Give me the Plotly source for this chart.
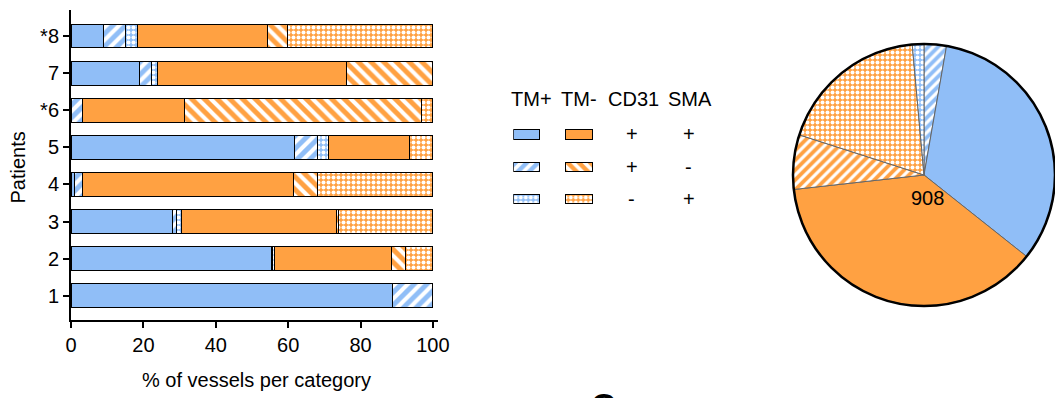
import plotly.graph_objects as go

# ---------------- data ----------------
patients = ["1", "2", "3", "4", "5", "*6", "7", "*8"]
totals = [18, 253, 210, 91, 94, 32, 63, 147]

# vessel counts per category, per patient (same order as `patients`)
tm_pos_cd31p_smap = [16, 140, 59, 1, 58, 0, 12, 13]
tm_pos_cd31p_smam = [2, 1, 2, 2, 6, 1, 2, 9]
tm_pos_cd31m_smap = [0, 1, 3, 0, 3, 0, 1, 5]
tm_neg_cd31p_smap = [0, 82, 90, 53, 21, 9, 33, 53]
tm_neg_cd31p_smam = [0, 10, 1, 6, 0, 21, 15, 8]
tm_neg_cd31m_smap = [0, 19, 55, 29, 6, 1, 0, 59]

legend_headers = ["TM+", "TM-", "CD31", "SMA"]
legend_cd31 = ["+", "+", "-"]
legend_sma = ["+", "-", "+"]

# ---------------- styles ----------------
BLUE = "#90BEF7"
ORANGE = "#FFA142"
FONT = "Liberation Sans, Arial, sans-serif"
W, H = 1055, 398


def pat(kind, color, hatch="/", size=9):
    if kind == "solid":
        return dict(shape="")
    if kind == "hatch":
        return dict(shape=hatch, size=size, solidity=0.45, fillmode="overlay",
                    bgcolor=color, fgcolor="white", fgopacity=1)
    return dict(shape=".", size=5, solidity=0.5, fillmode="overlay",
                bgcolor=color, fgcolor="white", fgopacity=1)


series = [
    ("TM+ CD31+ SMA+", tm_pos_cd31p_smap, BLUE, "solid", "/"),
    ("TM+ CD31+ SMA-", tm_pos_cd31p_smam, BLUE, "hatch", "/"),
    ("TM+ CD31- SMA+", tm_pos_cd31m_smap, BLUE, "check", "/"),
    ("TM- CD31+ SMA+", tm_neg_cd31p_smap, ORANGE, "solid", "\\"),
    ("TM- CD31+ SMA-", tm_neg_cd31p_smam, ORANGE, "hatch", "\\"),
    ("TM- CD31- SMA+", tm_neg_cd31m_smap, ORANGE, "check", "\\"),
]

fig = go.Figure()

# ---------------- stacked bars ----------------
for name, counts, color, kind, hatch in series:
    pct = [100.0 * c / t for c, t in zip(counts, totals)]
    fig.add_trace(go.Bar(
        x=pct, y=patients, orientation="h", name=name,
        marker=dict(color=color, line=dict(color="black", width=1),
                    pattern=pat(kind, color, hatch)),
        xaxis="x", yaxis="y", showlegend=False,
        hovertemplate=name + "<br>Patient %{y}: %{x:.1f}%<extra></extra>",
    ))

# ---------------- legend table (swatches as bars) ----------------
for i, (name, counts, color, kind, hatch) in enumerate(series):
    col = 0 if i < 3 else 1
    row = i % 3
    fig.add_trace(go.Bar(
        x=[1], base=[col * 2], y=[row], orientation="h", width=0.28,
        marker=dict(color=color, line=dict(color="black", width=1),
                    pattern=pat(kind, color, hatch, size=8)),
        xaxis="x2", yaxis="y2", showlegend=False, hoverinfo="skip",
    ))

# ---------------- pie ----------------
pie_totals = [sum(s[1]) for s in series]
pie_order = [1, 0, 3, 4, 5, 2]
pie_patterns = []
for k in pie_order:
    name, counts, color, kind, hatch = series[k]
    pie_patterns.append(pat(kind, color, "/", size=7))

pie_x0, pie_x1 = 793 / W, 1.0
pie_y0, pie_y1 = 1 - 306 / H, 1 - 44 / H
fig.add_trace(go.Pie(
    values=[pie_totals[k] for k in pie_order],
    labels=[series[k][0] for k in pie_order],
    marker=dict(colors=[series[k][2] for k in pie_order],
                line=dict(color="#666666", width=1),
                pattern=dict(
                    shape=[p.get("shape", "") for p in pie_patterns],
                    size=[p.get("size", 7) for p in pie_patterns],
                    solidity=[p.get("solidity", 0.5) for p in pie_patterns],
                    bgcolor=[series[k][2] for k in pie_order],
                    fgcolor="white", fgopacity=1, fillmode="overlay")),
    sort=False, direction="clockwise", rotation=0,
    textinfo="none", showlegend=False,
    domain=dict(x=[pie_x0, pie_x1], y=[pie_y0, pie_y1]),
))

txtfont = dict(size=20, family=FONT, color="black")
annotations = []
# totals to the right of the bars
for p, t in zip(patients, totals):
    annotations.append(dict(x=103.8, y=p, xref="x", yref="y", text=str(t),
                            showarrow=False, xanchor="left", font=txtfont))
# axis titles
annotations.append(dict(x=256.7 / W, y=1 - 380 / H, xref="paper", yref="paper",
                        text="% of vessels per category", showarrow=False,
                        xanchor="center", yanchor="middle", font=txtfont))
annotations.append(dict(x=17 / W, y=1 - 167.5 / H, xref="paper", yref="paper",
                        text="Patients", showarrow=False, textangle=-90,
                        xanchor="center", yanchor="middle", font=txtfont))
# legend headers
for txt, xh in zip(legend_headers, [0.7, 2.5, 4.56, 6.71]):
    annotations.append(dict(x=xh, y=-1.1, xref="x2", yref="y2", text=txt,
                            showarrow=False, xanchor="center", font=txtfont))
for r in range(3):
    annotations.append(dict(x=4.5, y=r, xref="x2", yref="y2", text=legend_cd31[r],
                            showarrow=False, xanchor="center", font=txtfont))
    annotations.append(dict(x=6.67, y=r, xref="x2", yref="y2", text=legend_sma[r],
                            showarrow=False, xanchor="center", font=txtfont))
# pie total
annotations.append(dict(x=927.7 / W, y=1 - 198 / H, xref="paper", yref="paper",
                        text=str(sum(totals)), showarrow=False,
                        xanchor="center", yanchor="middle", font=txtfont))
# panel letter (cropped at the bottom)
annotations.append(dict(x=603 / W, y=1 - 384 / H, xref="paper", yref="paper",
                        text="<b>C</b>", showarrow=False, yanchor="top",
                        xanchor="center",
                        font=dict(size=34, family=FONT, color="black")))

fig.update_layout(
    width=W, height=H,
    margin=dict(l=0, r=0, t=0, b=0),
    paper_bgcolor="white", plot_bgcolor="white",
    barmode="stack", bargap=0.354,
    font=dict(family=FONT, size=20, color="black"),
    xaxis=dict(domain=[71 / W, 438 / W], range=[0, 101.4],
               tickmode="linear", tick0=0, dtick=20,
               showline=True, linecolor="black", linewidth=2,
               ticks="outside", ticklen=6, tickwidth=2, tickcolor="black",
               showgrid=False, zeroline=False, automargin=False,
               tickfont=txtfont),
    yaxis=dict(domain=[1 - 320 / H, 1 - 10 / H], range=[-0.65, 7.7],
               type="category", categoryorder="array", categoryarray=patients,
               showline=True, linecolor="black", linewidth=2,
               ticks="outside", ticklen=6, tickwidth=2, tickcolor="black",
               showgrid=False, zeroline=False, automargin=False,
               tickfont=txtfont),
    xaxis2=dict(domain=[513.3 / W, 715 / W], range=[0, 7.66], visible=False,
                anchor="y2", fixedrange=True),
    yaxis2=dict(domain=[1 - 215.1 / H, 1 - 80 / H], range=[2.5, -1.69],
                visible=False, anchor="x2", fixedrange=True),
    annotations=annotations,
    shapes=[dict(type="circle", xref="paper", yref="paper",
                 x0=pie_x0, x1=pie_x1, y0=pie_y0, y1=pie_y1,
                 line=dict(color="black", width=2.5), layer="above")],
)

fig.write_html("out.html",
               config={"displayModeBar": False},
               post_script="document.body.style.margin='0px';")
